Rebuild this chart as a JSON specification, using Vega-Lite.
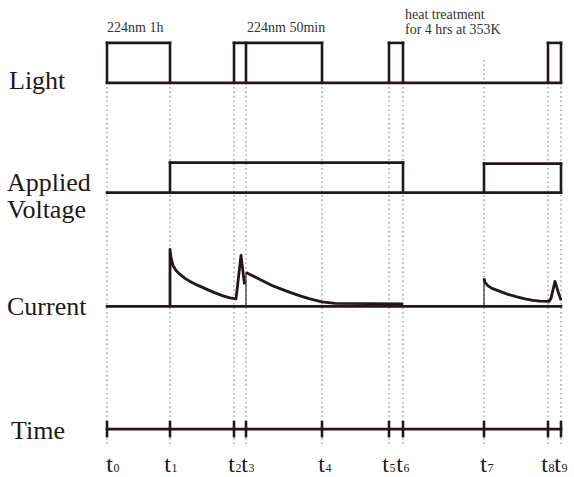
{
  "$schema": "https://vega.github.io/schema/vega-lite/v6.json",
  "width": 574,
  "height": 477,
  "padding": 0,
  "autosize": {"type": "fit", "contains": "padding"},
  "background": "white",
  "config": {"view": {"stroke": null}},
  "datasets": {
    "grid": [
      {"t": 0}, {"t": 63}, {"t": 127}, {"t": 139}, {"t": 215},
      {"t": 282}, {"t": 296}, {"t": 377}, {"t": 441}, {"t": 454}
    ],
    "segs": [
      {"part": "light", "t": 0, "t2": 454, "v": 394, "v2": 394},
      {"part": "light", "t": 0, "t2": 0, "v": 394, "v2": 434},
      {"part": "light", "t": 0, "t2": 63, "v": 434, "v2": 434},
      {"part": "light", "t": 63, "t2": 63, "v": 394, "v2": 434},
      {"part": "light", "t": 127, "t2": 127, "v": 394, "v2": 434},
      {"part": "light", "t": 127, "t2": 215, "v": 434, "v2": 434},
      {"part": "light", "t": 139, "t2": 139, "v": 394, "v2": 434},
      {"part": "light", "t": 215, "t2": 215, "v": 394, "v2": 434},
      {"part": "light", "t": 282, "t2": 282, "v": 394, "v2": 434},
      {"part": "light", "t": 282, "t2": 296, "v": 434, "v2": 434},
      {"part": "light", "t": 296, "t2": 296, "v": 394, "v2": 434},
      {"part": "light", "t": 441, "t2": 441, "v": 394, "v2": 434},
      {"part": "light", "t": 441, "t2": 454, "v": 434, "v2": 434},
      {"part": "light", "t": 454, "t2": 454, "v": 394, "v2": 434},
      {"part": "voltage", "t": 0, "t2": 454, "v": 284, "v2": 284},
      {"part": "voltage", "t": 63, "t2": 63, "v": 284, "v2": 314},
      {"part": "voltage", "t": 63, "t2": 296, "v": 314, "v2": 314},
      {"part": "voltage", "t": 296, "t2": 296, "v": 284, "v2": 314},
      {"part": "voltage", "t": 377, "t2": 377, "v": 284, "v2": 313},
      {"part": "voltage", "t": 377, "t2": 454, "v": 313, "v2": 313},
      {"part": "voltage", "t": 454, "t2": 454, "v": 284, "v2": 313},
      {"part": "current", "t": 0, "t2": 454, "v": 170, "v2": 170},
      {"part": "time", "t": 0, "t2": 454, "v": 47, "v2": 47},
      {"part": "time", "t": 0, "t2": 0, "v": 40, "v2": 54},
      {"part": "time", "t": 63, "t2": 63, "v": 40, "v2": 54},
      {"part": "time", "t": 127, "t2": 127, "v": 40, "v2": 54},
      {"part": "time", "t": 139, "t2": 139, "v": 40, "v2": 54},
      {"part": "time", "t": 215, "t2": 215, "v": 40, "v2": 54},
      {"part": "time", "t": 282, "t2": 282, "v": 40, "v2": 54},
      {"part": "time", "t": 296, "t2": 296, "v": 40, "v2": 54},
      {"part": "time", "t": 377, "t2": 377, "v": 40, "v2": 54},
      {"part": "time", "t": 441, "t2": 441, "v": 40, "v2": 54},
      {"part": "time", "t": 454, "t2": 454, "v": 40, "v2": 54},
      {"part": "thin", "t": 139, "t2": 139, "v": 170, "v2": 204},
      {"part": "thin", "t": 377, "t2": 377, "v": 170, "v2": 198}
    ],
    "curr": [
      {"seg": "A", "i": 0, "t": 63, "v": 170},
      {"seg": "A", "i": 1, "t": 63, "v": 227},
      {"seg": "A", "i": 2, "t": 64, "v": 219},
      {"seg": "A", "i": 3, "t": 66, "v": 211},
      {"seg": "A", "i": 4, "t": 69, "v": 206},
      {"seg": "A", "i": 5, "t": 73, "v": 202},
      {"seg": "A", "i": 6, "t": 78, "v": 198},
      {"seg": "A", "i": 7, "t": 83, "v": 195},
      {"seg": "A", "i": 8, "t": 91, "v": 191},
      {"seg": "A", "i": 9, "t": 100, "v": 187},
      {"seg": "A", "i": 10, "t": 108, "v": 183.5},
      {"seg": "A", "i": 11, "t": 116, "v": 180.5},
      {"seg": "A", "i": 12, "t": 123, "v": 178.5},
      {"seg": "A", "i": 13, "t": 129, "v": 177.5},
      {"seg": "A", "i": 14, "t": 134, "v": 221},
      {"seg": "A", "i": 15, "t": 137.5, "v": 192},
      {"seg": "B", "i": 0, "t": 139, "v": 204},
      {"seg": "B", "i": 1, "t": 143, "v": 202},
      {"seg": "B", "i": 2, "t": 149, "v": 199},
      {"seg": "B", "i": 3, "t": 157, "v": 195},
      {"seg": "B", "i": 4, "t": 166, "v": 190.5},
      {"seg": "B", "i": 5, "t": 175, "v": 187},
      {"seg": "B", "i": 6, "t": 183, "v": 184},
      {"seg": "B", "i": 7, "t": 193, "v": 180.5},
      {"seg": "B", "i": 8, "t": 203, "v": 177.5},
      {"seg": "B", "i": 9, "t": 215, "v": 174.5},
      {"seg": "B", "i": 10, "t": 228, "v": 173},
      {"seg": "B", "i": 11, "t": 296, "v": 172.5},
      {"seg": "C", "i": 0, "t": 377, "v": 198},
      {"seg": "C", "i": 1, "t": 378, "v": 194},
      {"seg": "C", "i": 2, "t": 381, "v": 190.5},
      {"seg": "C", "i": 3, "t": 385, "v": 188},
      {"seg": "C", "i": 4, "t": 393, "v": 185},
      {"seg": "C", "i": 5, "t": 401, "v": 182},
      {"seg": "C", "i": 6, "t": 410, "v": 179.5},
      {"seg": "C", "i": 7, "t": 418, "v": 177.5},
      {"seg": "C", "i": 8, "t": 426, "v": 176},
      {"seg": "C", "i": 9, "t": 433, "v": 175.2},
      {"seg": "C", "i": 10, "t": 442, "v": 175},
      {"seg": "C", "i": 11, "t": 444, "v": 178},
      {"seg": "C", "i": 12, "t": 448, "v": 195},
      {"seg": "C", "i": 13, "t": 451, "v": 185},
      {"seg": "C", "i": 14, "t": 454, "v": 176}
    ],
    "rowlabels": [
      {"label": "Light", "t": -98, "v": 388},
      {"label": "Applied", "t": -100, "v": 286},
      {"label": "Voltage", "t": -100, "v": 259},
      {"label": "Current", "t": -100, "v": 161},
      {"label": "Time", "t": -96, "v": 37}
    ],
    "notes": [
      {"label": "224nm 1h", "t": 0, "v": 445},
      {"label": "224nm 50min", "t": 140, "v": 445},
      {"label": "heat treatment", "t": 298, "v": 458},
      {"label": "for 4 hrs at 353K", "t": 298, "v": 443}
    ],
    "ticklabels": [
      {"n": "0", "lt": 6, "v": 4},
      {"n": "1", "lt": 64, "v": 4},
      {"n": "2", "lt": 128, "v": 4},
      {"n": "3", "lt": 141, "v": 4},
      {"n": "4", "lt": 218, "v": 4},
      {"n": "5", "lt": 282, "v": 4},
      {"n": "6", "lt": 296, "v": 4},
      {"n": "7", "lt": 380, "v": 4},
      {"n": "8", "lt": 441, "v": 4},
      {"n": "9", "lt": 454, "v": 4}
    ]
  },
  "encoding": {
    "x": {"type": "quantitative", "scale": {"domain": [-107, 467], "nice": false, "zero": false}, "axis": null},
    "y": {"type": "quantitative", "scale": {"domain": [0, 477], "nice": false, "zero": false}, "axis": null}
  },
  "layer": [
    {
      "data": {"name": "grid"},
      "mark": {"type": "rule", "color": "#8a8a8a", "strokeWidth": 1.2, "strokeDash": [1.5, 3]},
      "encoding": {
        "x": {"field": "t", "type": "quantitative"},
        "y": {"datum": 32, "type": "quantitative"},
        "y2": {"datum": 417}
      }
    },
    {
      "data": {"name": "segs"},
      "transform": [{"filter": "datum.part !== 'thin'"}],
      "mark": {"type": "rule", "color": "#231815", "strokeWidth": 2.6, "strokeCap": "square"},
      "encoding": {
        "x": {"field": "t", "type": "quantitative"},
        "x2": {"field": "t2"},
        "y": {"field": "v", "type": "quantitative"},
        "y2": {"field": "v2"}
      }
    },
    {
      "data": {"name": "segs"},
      "transform": [{"filter": "datum.part === 'thin'"}],
      "mark": {"type": "rule", "color": "#231815", "strokeWidth": 1.1},
      "encoding": {
        "x": {"field": "t", "type": "quantitative"},
        "x2": {"field": "t2"},
        "y": {"field": "v", "type": "quantitative"},
        "y2": {"field": "v2"}
      }
    },
    {
      "data": {"name": "curr"},
      "mark": {"type": "line", "color": "#231815", "strokeWidth": 2.8, "strokeJoin": "round", "strokeCap": "butt"},
      "encoding": {
        "x": {"field": "t", "type": "quantitative"},
        "y": {"field": "v", "type": "quantitative"},
        "detail": {"field": "seg"},
        "order": {"field": "i", "type": "quantitative"}
      }
    },
    {
      "data": {"name": "rowlabels"},
      "mark": {"type": "text", "font": "Liberation Serif", "fontSize": 26, "align": "left", "baseline": "alphabetic", "color": "#231815"},
      "encoding": {
        "x": {"field": "t", "type": "quantitative"},
        "y": {"field": "v", "type": "quantitative"},
        "text": {"field": "label"}
      }
    },
    {
      "data": {"name": "notes"},
      "mark": {"type": "text", "font": "Liberation Serif", "fontSize": 14, "align": "left", "baseline": "alphabetic", "color": "#333333"},
      "encoding": {
        "x": {"field": "t", "type": "quantitative"},
        "y": {"field": "v", "type": "quantitative"},
        "text": {"field": "label"}
      }
    },
    {
      "data": {"name": "ticklabels"},
      "mark": {"type": "text", "font": "Liberation Serif", "fontSize": 24, "align": "right", "baseline": "alphabetic", "color": "#231815"},
      "encoding": {
        "x": {"field": "lt", "type": "quantitative"},
        "y": {"field": "v", "type": "quantitative"},
        "text": {"value": "t"}
      }
    },
    {
      "data": {"name": "ticklabels"},
      "mark": {"type": "text", "font": "Liberation Serif", "fontSize": 12, "align": "left", "baseline": "alphabetic", "dx": 0.5, "color": "#231815"},
      "encoding": {
        "x": {"field": "lt", "type": "quantitative"},
        "y": {"field": "v", "type": "quantitative"},
        "text": {"field": "n"}
      }
    }
  ]
}
